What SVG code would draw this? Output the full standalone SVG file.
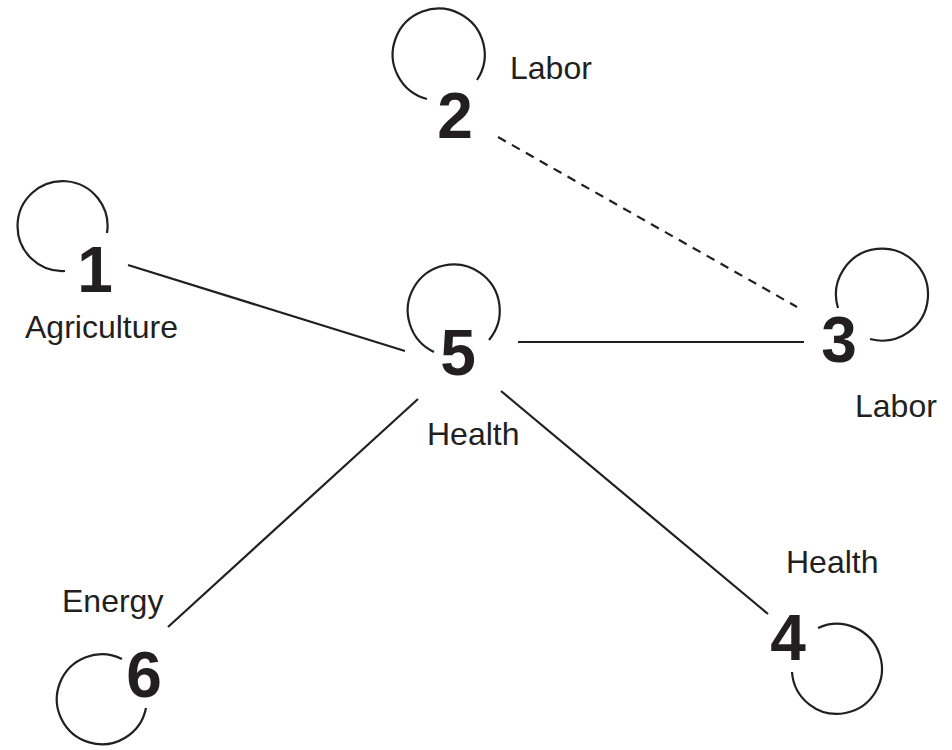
<svg xmlns="http://www.w3.org/2000/svg" width="952" height="750" viewBox="0 0 952 750">
<style>
.loop{fill:none;stroke:#231f20;stroke-width:2.2}
.edge{fill:none;stroke:#231f20;stroke-width:2.2}
.dash{stroke-dasharray:9 7}
.num{font-family:"Liberation Sans",Arial,sans-serif;font-weight:bold;font-size:64px;fill:#231f20;text-anchor:middle}
.lbl{font-family:"Liberation Sans",Arial,sans-serif;font-size:32px;fill:#231f20}
</style>
<rect width="952" height="750" fill="#fff"/>
<g id="connectors">
<line class="edge" x1="128" y1="265" x2="405" y2="351"/>
<line class="edge dash" x1="498" y1="137" x2="797" y2="307"/>
<line class="edge" x1="518" y1="342" x2="804" y2="342"/>
<line class="edge" x1="418" y1="399" x2="168" y2="627"/>
<line class="edge" x1="501" y1="391" x2="768" y2="614"/>
</g>
<g id="node1">
<path class="loop" d="M65,271 A45,45 0 1 1 107,233"/>
<text class="num" x="95" y="292">1</text>
<text class="lbl" x="25" y="338">Agriculture</text>
</g>
<g id="node2">
<path class="loop" d="M427,99 A46,46 0 1 1 477,80"/>
<text class="num" x="455" y="138">2</text>
<text class="lbl" x="510" y="79">Labor</text>
</g>
<g id="node3">
<path class="loop" d="M838,308 A46,46 0 1 1 870,339"/>
<text class="num" x="839" y="362">3</text>
<text class="lbl" x="855" y="417">Labor</text>
</g>
<g id="node4">
<path class="loop" d="M818,628 A45,45 0 1 1 792,672"/>
<text class="num" x="788" y="660">4</text>
<text class="lbl" x="786" y="573">Health</text>
</g>
<g id="node5">
<path class="loop" d="M434,352 A46,46 0 1 1 489,340"/>
<text class="num" x="458" y="375">5</text>
<text class="lbl" x="427" y="445">Health</text>
</g>
<g id="node6">
<path class="loop" d="M146,708 A45,45 0 1 1 122,659"/>
<text class="num" x="144" y="697">6</text>
<text class="lbl" x="62" y="612">Energy</text>
</g>
</svg>
